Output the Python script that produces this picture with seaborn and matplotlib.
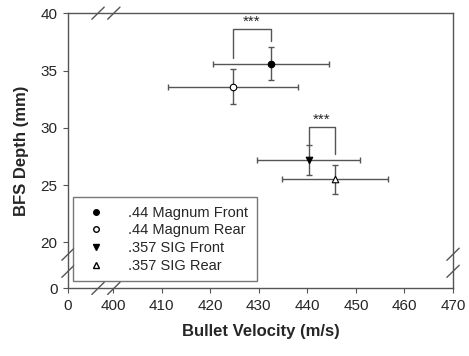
import pandas as pd
import matplotlib
matplotlib.use('Agg')
import matplotlib.pyplot as plt
import seaborn as sns
from matplotlib.lines import Line2D

# data
groups = ['.44 Magnum Front', '.44 Magnum Rear', '.357 SIG Front', '.357 SIG Rear']
velocity = [432.5, 424.6, 440.3, 445.6]
velocity_err = [12.0, 13.4, 10.6, 10.9]
depth = [35.6, 33.6, 27.2, 25.5]
depth_err = [1.45, 1.55, 1.3, 1.3]

x_ticks = [400, 410, 420, 430, 440, 450, 460, 470]
y_ticks = [20, 25, 30, 35, 40]
x_zero_pos = 390.7   # where the broken axis puts "0"
y_zero_pos = 16.0

# significance brackets: (left x, right x, top y, left leg end, right leg end)
brackets = [
	(424.6, 432.5, 38.65, 36.1, 37.55),
	(440.3, 445.6, 30.1, 28.6, 27.7),
]

markers = {'.44 Magnum Front': 'o', '.44 Magnum Rear': 'o', '.357 SIG Front': 'v', '.357 SIG Rear': '^'}
faces = {'.44 Magnum Front': 'black', '.44 Magnum Rear': 'white', '.357 SIG Front': 'black', '.357 SIG Rear': 'white'}


def draw_chart():
	sns.set_style('white')
	plt.rcParams['font.family'] = ['Liberation Sans', 'DejaVu Sans']

	df = pd.DataFrame({'group': groups, 'velocity': velocity, 'depth': depth,
		'verr': velocity_err, 'derr': depth_err})

	fig, ax = plt.subplots(figsize=(4.69, 3.56), dpi=100)
	fig.subplots_adjust(left=0.145, right=0.966, top=0.963, bottom=0.19)

	ax.errorbar(df['velocity'], df['depth'], xerr=df['verr'], yerr=df['derr'], fmt='none',
		ecolor='#555555', elinewidth=1.0, capsize=2.5, capthick=1.0, zorder=2)

	for g in groups:
		sub = df[df['group'] == g]
		sns.scatterplot(data=sub, x='velocity', y='depth', marker=markers[g], color=faces[g],
			edgecolor='black', linewidth=0.8, s=22, ax=ax, zorder=3, legend=False)

	for x1, x2, ytop, y1, y2 in brackets:
		ax.plot([x1, x1, x2, x2], [y1, ytop, ytop, y2], color='#555555', lw=1.0, zorder=2)
		ax.text((x1 + x2) / 2, ytop - 0.05, '***', ha='center', va='bottom', fontsize=11)

	ax.set_xlim(x_zero_pos, 470)
	ax.set_ylim(y_zero_pos, 40)
	ax.set_xticks([x_zero_pos] + x_ticks)
	ax.set_xticklabels(['0'] + [str(t) for t in x_ticks])
	ax.set_yticks([y_zero_pos] + y_ticks)
	ax.set_yticklabels(['0'] + [str(t) for t in y_ticks])
	ax.tick_params(axis='both', direction='out', length=3.5, width=0.8, color='#555555',
		labelsize=11, pad=4, bottom=True, left=True)

	ax.set_xlabel('Bullet Velocity (m/s)', fontsize=12, fontweight='bold', labelpad=8)
	ax.set_ylabel('BFS Depth (mm)', fontsize=12, fontweight='bold', labelpad=8)

	for spine in ax.spines.values():
		spine.set_visible(True)
		spine.set_color('#555555')
		spine.set_linewidth(1.0)

	# axis break marks
	dx, dy = 0.016, 0.022
	kw = dict(transform=ax.transAxes, color='#555555', lw=1.0, clip_on=False, zorder=5)
	for cx in (0.078, 0.119):
		for cy in (0.0, 1.0):
			ax.plot([cx - dx, cx + dx], [cy - dy, cy + dy], **kw)
	for cy in (0.124, 0.062):
		for cx in (0.0, 1.0):
			ax.plot([cx - dx, cx + dx], [cy - dy, cy + dy], **kw)

	handles = [Line2D([], [], ls='none', marker=markers[g], markerfacecolor=faces[g],
		markeredgecolor='black', markersize=4) for g in groups]
	leg = ax.legend(handles, groups, loc='lower left', bbox_to_anchor=(0.013, 0.025),
		borderaxespad=0, fancybox=False, fontsize=10.5, handletextpad=1.2,
		labelspacing=0.25, borderpad=0.6)
	leg.get_frame().set_edgecolor('#555555')
	leg.get_frame().set_linewidth(1.0)

	fig.savefig('out.png', dpi=100)


if __name__ == '__main__':
	draw_chart()
